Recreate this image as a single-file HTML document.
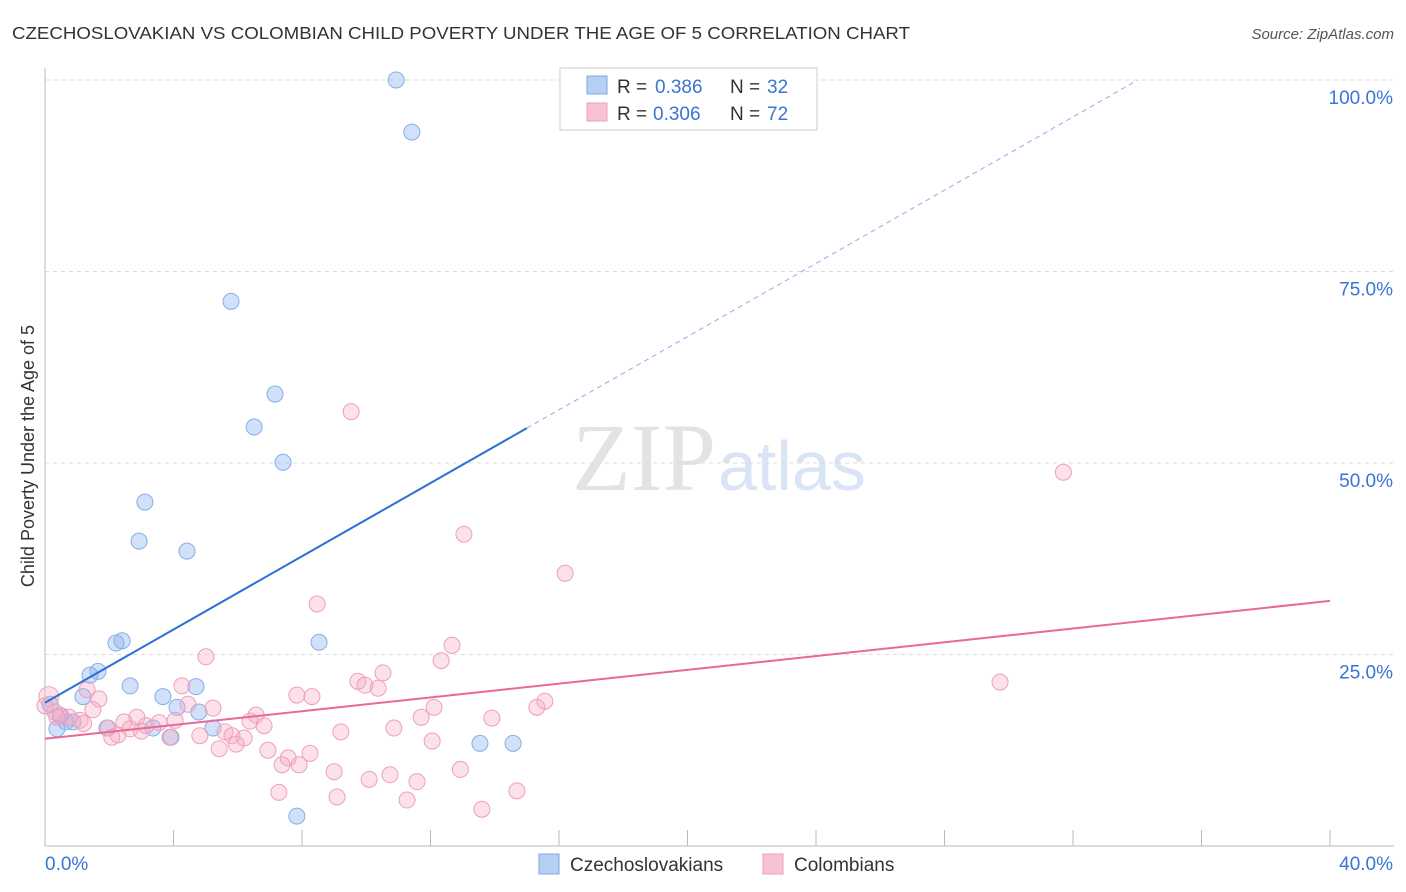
<!DOCTYPE html>
<html><head><meta charset="utf-8"><style>
body{margin:0;background:#fff;font-family:"Liberation Sans",sans-serif;}
</style></head><body>
<svg id="chart" width="1406" height="892" xmlns="http://www.w3.org/2000/svg" style="display:block">
<text x="12" y="39" font-size="17.5" fill="#333" textLength="898" lengthAdjust="spacingAndGlyphs">CZECHOSLOVAKIAN VS COLOMBIAN CHILD POVERTY UNDER THE AGE OF 5 CORRELATION CHART</text>
<text x="1394" y="39" font-size="15" fill="#555" text-anchor="end" font-style="italic">Source: ZipAtlas.com</text>
<text x="716" y="490" font-size="96" text-anchor="end" fill="#ddd" font-family="Liberation Serif, serif" opacity="0.8">ZIP</text>
<text x="718" y="490" font-size="70" fill="#c9d9f2" opacity="0.7">atlas</text>
<text transform="translate(34,456) rotate(-90)" font-size="18" fill="#333" text-anchor="middle">Child Poverty Under the Age of 5</text>
<g id="grid"></g><g id="axes"></g><g id="marks"></g>
<g>
<rect x="560" y="68" width="257" height="62" fill="#fff" stroke="#ccc"/>
<rect x="587" y="76" width="20" height="18" fill="#b7cff3" stroke="#7fa6e6"/>
<rect x="587" y="103" width="20" height="18" fill="#f7c3d3" stroke="#eda0b8"/>
<text x="617" y="93" font-size="19" fill="#333">R =</text>
<text x="655" y="93" font-size="19" fill="#3b74d4">0.386</text>
<text x="730" y="93" font-size="19" fill="#333">N =</text>
<text x="767" y="93" font-size="19" fill="#3b74d4">32</text>
<text x="617" y="120" font-size="19" fill="#333">R =</text>
<text x="653" y="120" font-size="19" fill="#3b74d4">0.306</text>
<text x="730" y="120" font-size="19" fill="#333">N =</text>
<text x="767" y="120" font-size="19" fill="#3b74d4">72</text>
</g>
<g>
<rect x="539" y="854" width="20" height="20" fill="#b7cff3" stroke="#7fa6e6"/>
<text x="570" y="871" font-size="19" fill="#333">Czechoslovakians</text>
<rect x="763" y="854" width="20" height="20" fill="#f7c3d3" stroke="#eda0b8"/>
<text x="794" y="871" font-size="19" fill="#333">Colombians</text>
</g>
</svg>
<script>
const yTicks=[25,50,75,100];
const yTickLabels=["25.0%","50.0%","75.0%","100.0%"];
const blueX=[10.93,11.42,5.79,7.16,6.51,7.41,3.11,2.93,4.42,8.53,2.21,2.40,1.65,1.40,2.65,4.70,3.67,1.18,4.11,4.79,0.16,0.47,0.65,0.87,0.37,1.93,3.36,5.23,3.92,13.54,14.57,7.84];
const blueY=[100,93.2,71.1,59.0,54.7,50.1,44.9,39.8,38.5,26.6,26.5,26.8,22.8,22.3,20.9,20.8,19.5,19.5,18.1,17.5,18.5,17.0,16.2,16.2,15.3,15.4,15.4,15.4,14.2,13.4,13.4,3.9];
const pinkX=[9.53,31.7,13.04,16.19,8.47,12.67,12.33,5.01,29.73,10.52,9.74,9.96,10.37,7.84,8.31,4.26,1.31,1.68,15.56,15.31,12.11,5.23,4.45,1.49,0.12,0.31,0.50,1.09,0.75,11.71,13.91,6.57,6.38,2.86,2.46,4.05,3.55,3.14,1.96,2.65,6.82,10.86,5.60,2.27,2.08,3.89,4.82,5.82,6.20,9.21,5.95,12.05,5.42,6.94,8.25,7.57,7.38,7.91,12.93,9.00,10.74,11.58,10.09,7.28,14.69,9.09,11.27,13.60,0.37,0.0,1.2,3.0];
const pinkY=[56.7,48.8,40.7,35.6,31.6,26.2,24.2,24.7,21.4,22.6,21.5,21.0,20.6,19.7,19.5,20.9,20.4,19.2,18.9,18.1,18.1,18.0,18.5,17.8,19.5,17.5,17.0,16.4,16.8,16.8,16.7,17.1,16.3,16.8,16.2,16.4,16.1,15.7,15.4,15.3,15.7,15.4,14.9,14.5,14.2,14.2,14.4,14.4,14.1,14.9,13.3,13.7,12.7,12.5,12.1,11.5,10.6,10.6,10.0,9.7,9.3,8.4,8.7,7.0,7.2,6.4,6.0,4.8,16.8,18.3,16.0,15.0];
const blueLine=[18.7,2.39]; const pinkLine=[14.0,0.45];
const NS="http://www.w3.org/2000/svg";
const X=v=>45+v*32.125, Y=v=>846-v*7.66;
function mk(t,a,p){const e=document.createElementNS(NS,t);for(const k in a)e.setAttribute(k,a[k]);document.getElementById(p).appendChild(e);return e;}
yTicks.forEach((t,i)=>{
 const g=mk('line',{x1:45,x2:1394,y1:Y(t),y2:Y(t),stroke:'#ddd','stroke-dasharray':'4,4'},'grid');
 
 
 const l=mk('text',{x:1393,y:Y(t)+24,'font-size':19,fill:'#3b74d4','text-anchor':'end'},'axes');
 
 
 l.textContent=yTickLabels[i];
});
let a=mk('line',{x1:45,x2:45,y1:68,y2:846,stroke:'#bbb'},'axes');


a=mk('line',{x1:45,x2:1394,y1:846,y2:846,stroke:'#bbb'},'axes');


for(let v=4;v<=40;v+=4){const t=mk('line',{x1:X(v),x2:X(v),y1:830,y2:846,stroke:'#bbb'},'axes');
 
 }
[["0.0%",45,'start'],["40.0%",1393,'end']].forEach(d=>{const t=mk('text',{x:d[1],y:870,'font-size':19,fill:'#3b74d4','text-anchor':d[2]},'axes');
 
 
 t.textContent=d[0];});
blueX.forEach((x,i)=>{const c=mk('circle',{cx:X(x),cy:Y(blueY[i]),r:8,fill:'rgba(140,180,240,0.4)',stroke:'#86aee8','stroke-width':1},'marks');
 
 });
pinkX.forEach((x,i)=>{const c=mk('circle',{cx:X(x),cy:Y(pinkY[i]),r:i==24?10:8,fill:'rgba(245,170,195,0.35)',stroke:'#eea0b8','stroke-width':1},'marks');
 
 });
let r=mk('line',{x1:X(0),y1:Y(blueLine[0]),x2:X(15),y2:Y(blueLine[0]+15*blueLine[1]),stroke:'#2c6fd6','stroke-width':2},'marks');


const xe=(100-blueLine[0])/blueLine[1];
r=mk('line',{x1:X(15),y1:Y(blueLine[0]+15*blueLine[1]),x2:X(xe),y2:Y(100),stroke:'#8ab0e8','stroke-width':1,'stroke-dasharray':'5,4'},'marks');


r=mk('line',{x1:X(0),y1:Y(pinkLine[0]),x2:X(40),y2:Y(pinkLine[0]+40*pinkLine[1]),stroke:'#e8689a','stroke-width':2},'marks');


</script>
</body></html>
